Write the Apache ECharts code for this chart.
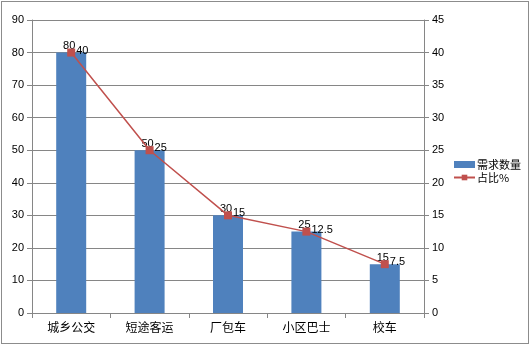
<!DOCTYPE html>
<html><head><meta charset="utf-8">
<script src="https://cdn.jsdelivr.net/npm/echarts@6/dist/echarts.min.js"></script>
<style>
html,body{margin:0;padding:0;background:#fff;}
#wrap{position:absolute;left:1px;top:1px;width:526px;height:341px;border:1px solid #8c8c8c;}
#c{position:absolute;left:0;top:0;width:530px;height:345px;}
</style></head>
<body>
<div id="wrap"></div>
<div id="c"></div>
<script>
const categories = ['城乡公交','短途客运','厂包车','小区巴士','校车'];
const demand = [80, 50, 30, 25, 15];
const share = [40, 25, 15, 12.5, 7.5];
const leftTicks = {min:0, max:90, interval:10};
const rightTicks = {min:0, max:45, interval:5};

const chart = echarts.init(document.getElementById('c'));
const font = "'Liberation Sans', Arial, 'Noto Sans CJK SC', sans-serif";
const axisLine = {show:true, lineStyle:{color:'#868686', width:1}};
chart.setOption({
  animation:false,
  textStyle:{fontFamily:font},
  grid:{left:32, right:106, top:20, bottom:32, containLabel:false},
  legend:{
    orient:'vertical', left:448, top:154, itemGap:2, itemWidth:21, itemHeight:7,
    textStyle:{fontSize:11, color:'#000', fontFamily:"'Noto Sans CJK SC', sans-serif", padding:[0,0,0,-3]},
    data:[{name:'需求数量', icon:'rect'}, {name:'占比%'}]
  },
  xAxis:{
    type:'category', data:categories, boundaryGap:true,
    axisLine:axisLine, axisTick:{show:true, length:5, lineStyle:{color:'#868686'}},
    axisLabel:{color:'#000', fontSize:12, margin:8, fontFamily:"'Noto Sans CJK SC', sans-serif"}
  },
  yAxis:[
    {type:'value', min:leftTicks.min, max:leftTicks.max, interval:leftTicks.interval,
     axisLine:axisLine, axisTick:{show:true, length:5, lineStyle:{color:'#868686'}},
     axisLabel:{color:'#000', fontSize:11, margin:8},
     splitLine:{show:true, lineStyle:{color:'#868686', width:1}}},
    {type:'value', min:rightTicks.min, max:rightTicks.max, interval:rightTicks.interval, position:'right',
     axisLine:axisLine, axisTick:{show:true, length:5, lineStyle:{color:'#868686'}},
     axisLabel:{color:'#000', fontSize:11, margin:8},
     splitLine:{show:false}}
  ],
  series:[
    {name:'需求数量', type:'bar', data:demand, yAxisIndex:0, barWidth:30,
     itemStyle:{color:'#4f81bd'},
     label:{show:true, position:'top', distance:1, offset:[-2,0], color:'#000', fontSize:11}},
    {name:'占比%', type:'line', data:share, yAxisIndex:1,
     symbol:'rect', symbolSize:8, lineStyle:{color:'#c0504d', width:1.5},
     itemStyle:{color:'#c0504d'},
     label:{show:true, position:'right', distance:1, offset:[0,-2], color:'#000', fontSize:11}}
  ]
});
</script>
</body></html>
